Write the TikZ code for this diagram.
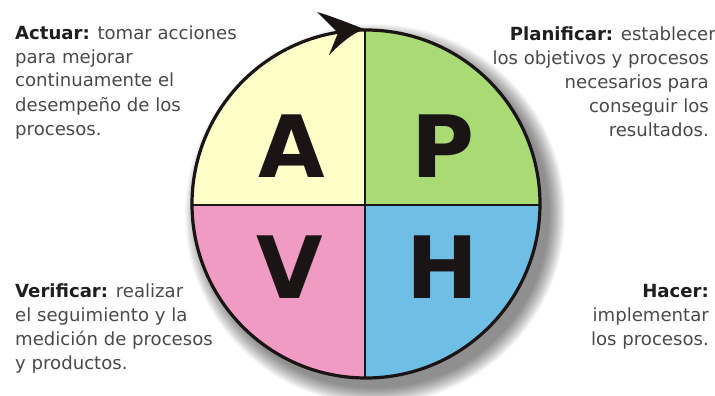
\documentclass[tikz,border=0pt]{standalone}
\usepackage{fontspec}
\setmainfont{DejaVu Sans}
\definecolor{cYel}{HTML}{FFFDC8}
\definecolor{cGrn}{HTML}{AADA73}
\definecolor{cPnk}{HTML}{F09BC3}
\definecolor{cBlu}{HTML}{6EBEE6}
\definecolor{cTxt}{HTML}{4A4A4A}
\definecolor{cHead}{HTML}{1E1E1E}
\definecolor{cLet}{HTML}{1A1414}
\begin{document}
\begin{tikzpicture}[x=1pt,y=-1pt,
  bigletter/.style={font=\fontsize{86}{86}\selectfont\bfseries, text=cLet, anchor=base, inner sep=0pt},
  blurb/.style={font=\fontsize{18.1}{24}\selectfont, text=cTxt, inner sep=0pt},
  head/.style={text=cHead}]
\useasboundingbox (0,0) rectangle (715,396);
\fill[white] (0,0) rectangle (715,396);
\coordinate (c) at (366,204);
% shadow
\foreach \i in {0,...,16}{
  \fill[black, opacity=0.032] (375,214) circle ({174+16-\i});
}
% quadrants
\begin{scope}
  \clip (c) circle (174);
  \fill[cYel] (180,20) rectangle (365,205);
  \fill[cGrn] (365,20) rectangle (560,205);
  \fill[cPnk] (180,205) rectangle (365,390);
  \fill[cBlu] (365,205) rectangle (560,390);
\end{scope}
\coordinate (top) at (365,30);
\coordinate (bot) at (365,378);
\coordinate (lft) at (192,205);
\coordinate (rgt) at (540,205);
\draw[line width=2.6pt, cLet] (top) -- (bot);
\draw[line width=2.6pt, cLet] (lft) -- (rgt);
\draw[line width=3.2pt, cLet] (c) circle (174);
% arrow head
\fill[cLet] (364,29) .. controls (346,22) and (331,16) .. (317,12)
  -- (338,33) -- (329,55) .. controls (342,42) and (352,34) .. (364,29) -- cycle;
% letters
\node[bigletter] (A) at (291.5,177) {A};
\node[bigletter] (P) at (443,177) {P};
\node[bigletter] (V) at (290,298) {V};
\node[bigletter] (H) at (442,298) {H};
% texts (anchored at the baseline of the last line)
\node[blurb, align=left, anchor=base west] (act) at (15,135)
  {{\bfseries\color{cHead}Actuar:} tomar acciones\\para mejorar\\continuamente el\\desempeño de los\\procesos.};
\node[blurb, align=right, anchor=base east] (pla) at (709,136)
  {{\bfseries\color{cHead}Planificar:} establecer\hspace*{-7pt}\\los objetivos y procesos\\necesarios para\\conseguir los\\resultados.};
\node[blurb, align=left, anchor=base west] (ver) at (15,369)
  {{\bfseries\color{cHead}Verificar:} realizar\\el seguimiento y la\\medición de procesos\\y productos.};
\node[blurb, align=right, anchor=base east] (hac) at (709,345)
  {{\bfseries\color{cHead}Hacer:}\\implementar\\los procesos.};
\end{tikzpicture}
\end{document}
